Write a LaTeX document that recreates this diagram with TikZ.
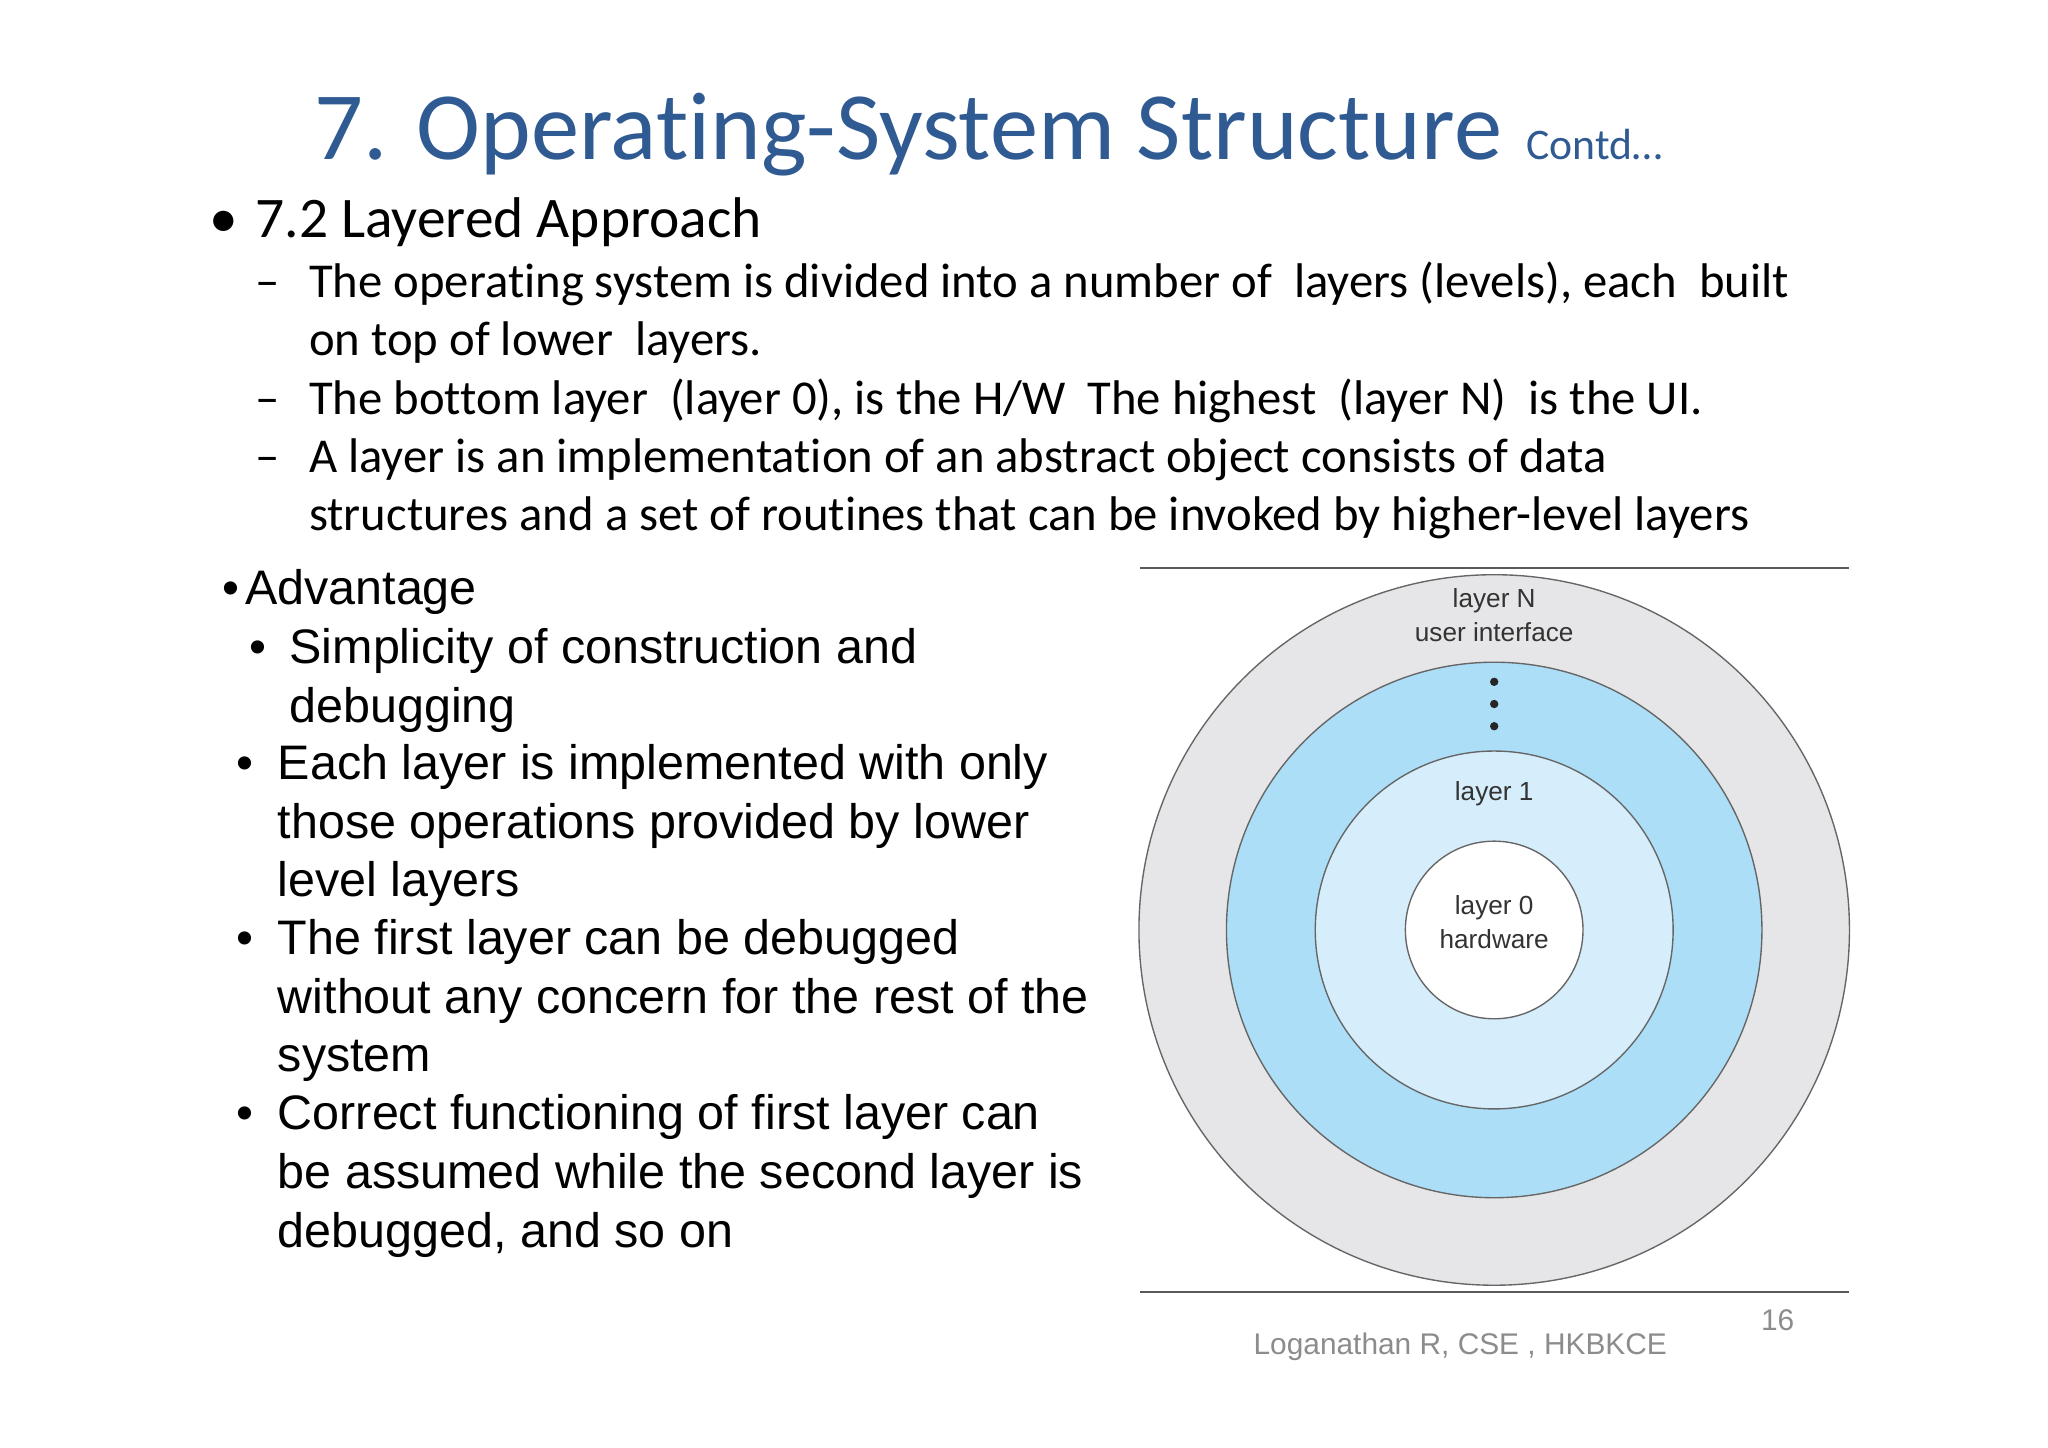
\documentclass[tikz,border=0pt]{standalone}
\usepackage{fontspec}
\setmainfont{Carlito}[Ligatures=CommonOff]
\newfontfamily\arial{Liberation Sans}
\definecolor{titleblue}{HTML}{2F5A92}
\definecolor{ringgrey}{HTML}{E6E6E8}
\definecolor{ringblue}{HTML}{ADDEF7}
\definecolor{ringlight}{HTML}{D6EEFB}
\definecolor{txtgrey}{HTML}{333333}
\definecolor{footgrey}{HTML}{8C8C8C}
\begin{document}
\begin{tikzpicture}[x=0.01cm,y=-0.01cm,
  bodytxt/.style={anchor=base west,inner sep=0,font=\fontsize{10.6}{12}\selectfont},
  advtxt/.style={anchor=base west,inner sep=0,font=\arial\fontsize{10.55}{12}\selectfont},
  ring/.style={draw=gray!80!black,line width=0.3pt},
  lbl/.style={font=\arial\fontsize{5.7}{6.5}\selectfont,text=txtgrey,inner sep=0}]
\useasboundingbox[fill=white] (0,0) rectangle (1568,1108);
\node[anchor=base west,inner sep=0,text=titleblue,font=\fontsize{21}{24}\selectfont] (title) at (240,122) {7. Operating-System Structure};
\node[anchor=base west,inner sep=0,text=titleblue,font=\fontsize{9.5}{11}\selectfont] (contd) at (1168,122) {Contd…};
\node[anchor=base west,inner sep=0,font=\fontsize{12.5}{14}\selectfont] (bb) at (160,182) {•};
\node[anchor=base west,inner sep=0,font=\fontsize{12.5}{14}\selectfont] (b0) at (195,182) {7.2 Layered Approach};
\foreach \y/\t [count=\i] in {228/{The operating system is divided into a number of\ \ layers (levels), each\ \ built},317/{The bottom layer\ \ (layer 0), is the H/W\ \ The highest\ \ (layer N)\ \ is the UI.},362/{A layer is an implementation of an abstract object consists of data}}
  {\node[bodytxt] (d\i) at (195,\y) {–}; \node[bodytxt] (s\i) at (236,\y) {\t};}
\node[bodytxt] (s1b) at (236,272) {on top of lower\ \ layers.};
\node[bodytxt] (s3b) at (236,406) {structures and a set of routines that can be invoked by higher-level layers};
\node[advtxt] (adv0) at (170,463) {•};
\node[advtxt] (adv) at (187,463) {Advantage};
\node[advtxt] (a0) at (190,508) {•};
\node[advtxt] (a1) at (221,508) {Simplicity of construction and};
\node[advtxt] (a2) at (221,553) {debugging};
\foreach \y/\t [count=\i] in {597/{Each layer is implemented with only},642/{those operations provided by lower},686/{level layers},731/{The first layer can be debugged},776/{without any concern for the rest of the},820/{system},865/{Correct functioning of first layer can},910/{be assumed while the second layer is},955/{debugged, and so on}}
  {\node[advtxt] (l\i) at (212,\y) {\t};}
\foreach \y [count=\i] in {597,731,865} {\node[advtxt] (p\i) at (180,\y) {•};}
% diagram
\draw[gray!70!black,line width=0.4pt] (873,435) coordinate (h1) -- (1416,435) coordinate (h2);
\draw[gray!70!black,line width=0.4pt] (873,989) coordinate (h3) -- (1416,989) coordinate (h4);
\coordinate (c) at (1144,712);
\fill[ringgrey] (c) circle (272); \draw[ring] (c) circle (272);
\fill[ringblue] (c) circle (205); \draw[ring] (c) circle (205);
\fill[ringlight] (c) circle (137); \draw[ring] (c) circle (137);
\fill[white] (c) circle (68); \draw[ring] (c) circle (68);
\foreach \y in {522,539,556} \fill[black!85] (1144,\y) circle (3.2);
\node[lbl] (ln) at (1144,460) {layer N};
\node[lbl] (ui) at (1144,484) {user interface};
\node[lbl] (l1) at (1144,608) {layer 1};
\node[lbl] (l0) at (1144,695) {layer 0};
\node[lbl] (hw) at (1144,719) {hardware};
\node[text=footgrey,font=\arial\fontsize{6.5}{8}\selectfont,inner sep=0] (foot) at (1118,1031) {Loganathan R, CSE , HKBKCE};
\node[text=footgrey,font=\arial\fontsize{6.5}{8}\selectfont,inner sep=0] (pg) at (1361,1011) {16};
\end{tikzpicture}
\end{document}
